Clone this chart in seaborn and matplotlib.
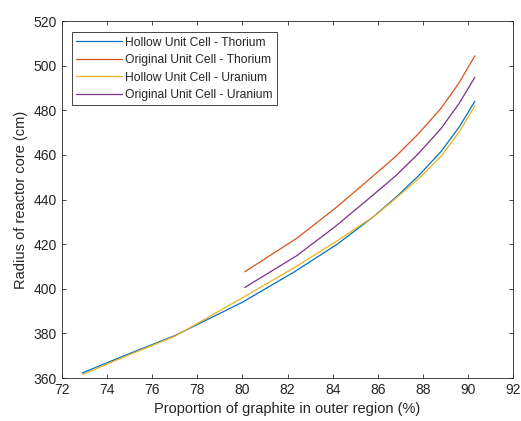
import matplotlib
matplotlib.use("Agg")
import matplotlib.pyplot as plt
import seaborn as sns
import pandas as pd

# proportion of graphite in outer region (%) and core radius (cm)
hollow_th_x = [72.9, 75.0, 77.0, 80.0, 82.3, 84.2, 85.8, 86.8, 87.8, 88.8, 89.6, 90.3]
hollow_th_y = [362.3, 371.0, 379.0, 394.0, 407.6, 420.0, 432.3, 441.0, 450.6, 461.5, 472.4, 484.0]

orig_th_x = [80.1, 82.4, 84.1, 85.75, 86.8, 87.8, 88.8, 89.6, 90.3]
orig_th_y = [407.6, 422.6, 436.0, 450.2, 459.4, 469.5, 480.9, 492.3, 504.4]

hollow_u_x = [72.9, 75.0, 77.0, 80.0, 82.3, 84.2, 85.9, 86.8, 87.8, 88.8, 89.6, 90.3]
hollow_u_y = [361.6, 370.5, 378.7, 396.0, 409.5, 421.5, 433.0, 440.6, 449.3, 459.4, 470.2, 482.0]

orig_u_x = [80.1, 82.4, 84.1, 85.75, 86.8, 87.8, 88.8, 89.6, 90.3]
orig_u_y = [400.6, 414.8, 427.8, 441.7, 450.7, 460.6, 471.8, 483.0, 494.8]

labels = ["Hollow Unit Cell - Thorium", "Original Unit Cell - Thorium",
          "Hollow Unit Cell - Uranium", "Original Unit Cell - Uranium"]
colors = ["#0072BD", "#D95319", "#EDB120", "#7E2F8E"]

frames = []
for lab, xs, ys in zip(labels,
                       [hollow_th_x, orig_th_x, hollow_u_x, orig_u_x],
                       [hollow_th_y, orig_th_y, hollow_u_y, orig_u_y]):
    frames.append(pd.DataFrame({"x": xs, "y": ys, "series": lab}))
df = pd.concat(frames, ignore_index=True)

sns.set_style("ticks")
plt.rcParams['font.family'] = ['Liberation Sans', 'DejaVu Sans']
dark = "#262626"
plt.rcParams['text.color'] = dark
plt.rcParams['axes.labelcolor'] = dark
plt.rcParams['xtick.color'] = dark
plt.rcParams['ytick.color'] = dark
plt.rcParams['axes.edgecolor'] = dark

fig = plt.figure(figsize=(5.21, 4.21), dpi=100)
ax = fig.add_axes([0.119, 0.102, 0.866, 0.848])

sns.lineplot(data=df, x="x", y="y", hue="series", hue_order=labels,
             palette=colors, linewidth=0.9, sort=False, estimator=None, ax=ax)

ax.set_xlim(72, 92)
ax.set_ylim(360, 520)
ax.set_xticks(range(72, 93, 2))
ax.set_yticks(range(360, 521, 20))
ax.tick_params(direction="in", length=3, width=0.6, labelsize=10,
               top=True, right=True)
for s in ax.spines.values():
    s.set_linewidth(0.6)
ax.set_xlabel("Proportion of graphite in outer region (%)", fontsize=10.5)
ax.set_ylabel("Radius of reactor core (cm)", fontsize=10.5)

leg = ax.legend(loc="upper left", fontsize=8.7, frameon=True, fancybox=False,
                edgecolor=dark, framealpha=1, borderpad=0.35, labelspacing=0.45,
                handlelength=3.8, handletextpad=0.3,
                bbox_to_anchor=(0.008, 0.985))
leg.get_frame().set_linewidth(0.6)

fig.savefig("out.png", dpi=100)
